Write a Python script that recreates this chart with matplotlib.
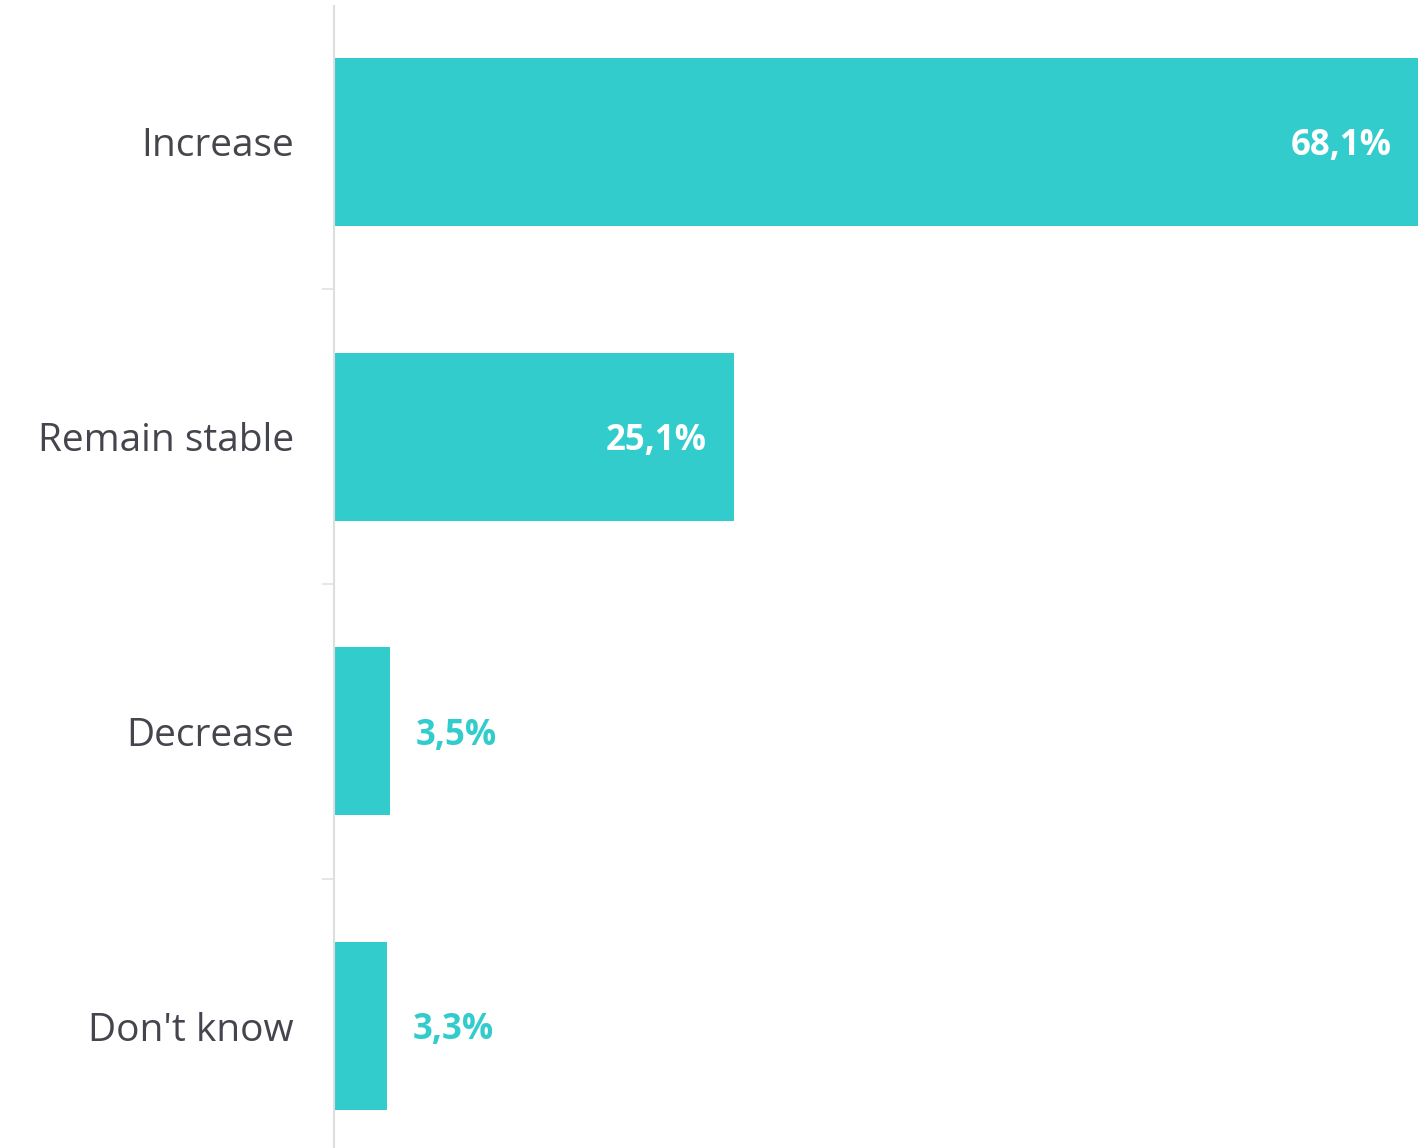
import matplotlib.pyplot as plt
import numpy as np

# Datos
categorias = ["Increase", "Remain stable", "Decrease", "Don't know"]
valores = [68.1, 25.1, 3.5, 3.3]
etiquetas = ["68,1%", "25,1%", "3,5%", "3,3%"]

teal = '#33CCCC'
gris = '#45454d'

plt.rcParams['font.family'] = ['Open Sans', 'DejaVu Sans']

fig = plt.figure(figsize=(14.24, 11.48), dpi=100)
W, H = 1424, 1148
# ejes colocados en pixeles
x0, x1 = 334, 1418
ytop, ybot = 6, 1148
ax = fig.add_axes([x0 / W, (H - ybot) / H, (x1 - x0) / W, (ybot - ytop) / H])

pos = np.arange(len(categorias))
ax.barh(pos, valores, height=0.57, color=teal)

paso = 294.7
ax.set_ylim((ybot - 142) / paso, (ytop - 142) / paso)
ax.set_xlim(0, 68.1)

for i, (v, txt) in enumerate(zip(valores, etiquetas)):
    if v > 10:
        ax.annotate(txt, (v, i), xytext=(-19, -3), textcoords='offset points',
                    ha='right', va='center', color='white', fontsize=25,
                    fontweight='bold')
    else:
        ax.annotate(txt, (v, i), xytext=(19, -3), textcoords='offset points',
                    ha='left', va='center', color=teal, fontsize=25,
                    fontweight='bold')

ax.set_yticks(pos)
ax.set_yticklabels(categorias, fontsize=28, color=gris)
ax.tick_params(axis='y', which='major', length=0, pad=29)
ax.set_yticks([0.5, 1.5, 2.5], minor=True)
ax.tick_params(axis='y', which='minor', length=9, color='#e2e2e2', width=1.2)
ax.set_xticks([])

for s in ['top', 'right', 'bottom']:
    ax.spines[s].set_visible(False)
ax.spines['left'].set_color('#dedede')
ax.spines['left'].set_linewidth(1.5)

fig.savefig('out.png', dpi=100)
